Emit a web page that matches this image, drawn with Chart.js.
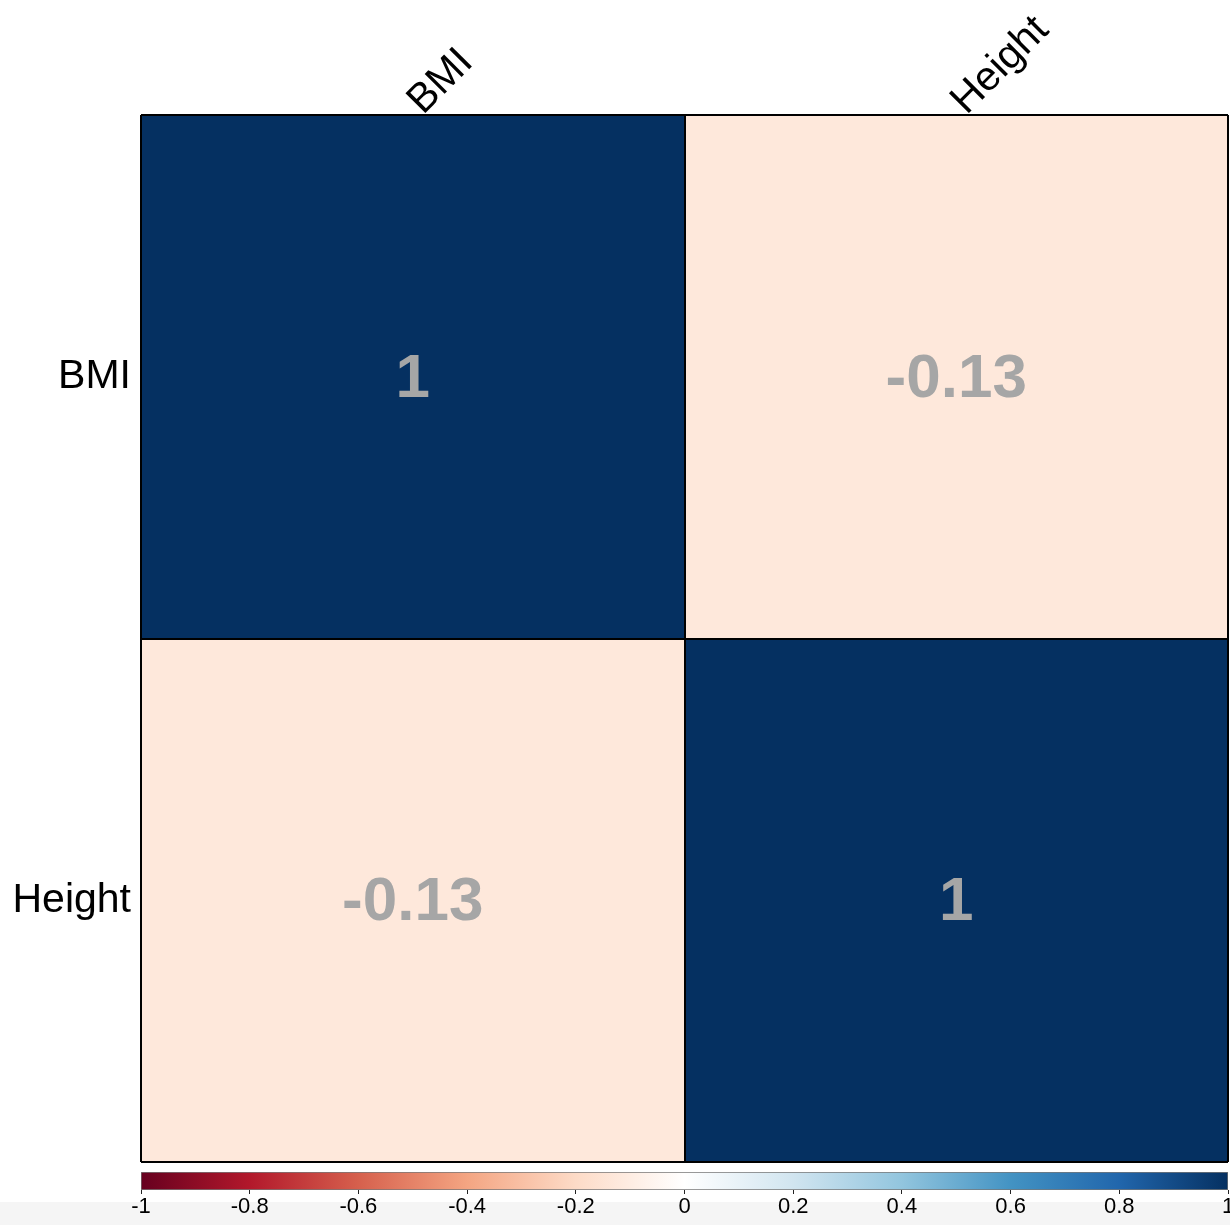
<!DOCTYPE html>
<html>
<head>
<meta charset="utf-8">
<script src="https://cdn.jsdelivr.net/npm/chart.js@4.4.1/dist/chart.umd.min.js"></script>
<style>
    html, body { margin: 0; padding: 0; background: #fff; overflow: hidden; width: 1230px; height: 1225px; }
    #band { position: absolute; left: 0; top: 1202px; width: 1230px; height: 23px; background: #f5f5f5; }
    #corrChart { position: absolute; left: 0; top: 0; }
    #barLegend { position: absolute; left: 0; top: 1166px; }
</style>
</head>
<body>
<div id="band"></div>
<canvas id="corrChart" width="1230" height="1164"></canvas>
<canvas id="barLegend" width="1240" height="58"></canvas>
<script>
const variables = ['BMI', 'Height'];
const bmiRow = [1, -0.13];
const heightRow = [-0.13, 1];
const corrRows = [bmiRow, heightRow];
const legendTicks = [-1, -0.8, -0.6, -0.4, -0.2, 0, 0.2, 0.4, 0.6, 0.8, 1];
// RdBu palette used by corrplot, from -1 to 1
const palette = ['#67001F', '#B2182B', '#D6604D', '#F4A582', '#FDDBC7', '#FFFFFF',
                 '#D1E5F0', '#92C5DE', '#4393C3', '#2166AC', '#053061'];

const FONT = '"Liberation Sans", Arial, Helvetica, sans-serif';

function hexToRgb(h) {
    return [parseInt(h.slice(1, 3), 16), parseInt(h.slice(3, 5), 16), parseInt(h.slice(5, 7), 16)];
}

function colorFor(v) {
    const pos = (v + 1) / 2 * (palette.length - 1);
    const i = Math.min(Math.floor(pos), palette.length - 2);
    const t = pos - i;
    const a = hexToRgb(palette[i]), b = hexToRgb(palette[i + 1]);
    const c = a.map((x, k) => Math.round(x + (b[k] - x) * t));
    return 'rgb(' + c.join(',') + ')';
}

// writes the coefficient in the middle of each cell
const cellText = {
    id: 'cellText',
    afterDatasetsDraw(chart) {
        const ctx = chart.ctx;
        ctx.save();
        ctx.font = 'bold 62px ' + FONT;
        ctx.fillStyle = '#a6a6a6';
        ctx.textAlign = 'center';
        ctx.textBaseline = 'middle';
        chart.data.datasets.forEach((ds, i) => {
            chart.getDatasetMeta(i).data.forEach((bar, j) => {
                const p = bar.getCenterPoint();
                ctx.fillText(String(corrRows[i][j]), p.x, p.y + 3);
            });
        });
        ctx.restore();
    }
};

document.addEventListener('DOMContentLoaded', function () {
    const ctx = document.getElementById('corrChart').getContext('2d');
    const ctx2 = document.getElementById('barLegend').getContext('2d');

    const corrChart = new Chart(ctx, {
        type: 'bar',
        data: {
            labels: variables,
            datasets: corrRows.map((row, i) => ({
                label: variables[i],
                data: row.map(() => [i, i + 1]),
                backgroundColor: (c) => colorFor(row[c.dataIndex]),
                borderWidth: 0,
                barPercentage: 1,
                categoryPercentage: 1
            }))
        },
        options: {
            responsive: false,
            animation: false,
            layout: { padding: { left: 0, right: 2, top: 0, bottom: 2 } },
            plugins: {
                legend: { display: false },
                tooltip: { enabled: false }
            },
            scales: {
                x: {
                    position: 'top',
                    stacked: true,
                    afterFit: (scale) => {
                        scale.height = 115;
                        scale.paddingLeft = 0;
                        scale.paddingRight = 0;
                    },
                    grid: { z: 1, offset: true, color: '#000', lineWidth: 2, drawTicks: false },
                    border: { display: false },
                    ticks: {
                        minRotation: 45,
                        maxRotation: 45,
                        padding: -10,
                        labelOffset: 37,
                        color: '#000',
                        font: { family: FONT, size: 41 }
                    }
                },
                y: {
                    type: 'linear',
                    min: 0,
                    max: variables.length,
                    reverse: true,
                    stacked: false,
                    afterFit: (scale) => {
                        scale.width = 141;
                        scale.paddingTop = 0;
                        scale.paddingBottom = 0;
                    },
                    afterBuildTicks: (scale) => {
                        const t = [];
                        for (let k = 0; k <= variables.length * 2; k++) t.push({ value: k / 2 });
                        scale.ticks = t;
                    },
                    grid: {
                        z: 1,
                        color: (c) => Number.isInteger(c.tick.value) ? '#000' : 'rgba(0,0,0,0)',
                        lineWidth: 2,
                        drawTicks: false
                    },
                    border: { display: false },
                    ticks: {
                        autoSkip: false,
                        padding: 10,
                        color: '#000',
                        font: { family: FONT, size: 41 },
                        callback: (v) => {
                            const i = v - 0.5;
                            return Number.isInteger(i) ? variables[i] : '';
                        }
                    }
                }
            }
        },
        plugins: [cellText]
    });

    // colour legend under the matrix
    const legendChart = new Chart(ctx2, {
        type: 'bar',
        data: {
            labels: [''],
            datasets: [{
                data: [[legendTicks[0], legendTicks[legendTicks.length - 1]]],
                backgroundColor: (c) => {
                    const area = c.chart.chartArea;
                    if (!area) return null;
                    const g = c.chart.ctx.createLinearGradient(area.left, 0, area.right, 0);
                    palette.forEach((col, k) => g.addColorStop(k / (palette.length - 1), col));
                    return g;
                },
                borderColor: '#777',
                borderWidth: 1,
                borderSkipped: false,
                barPercentage: 1,
                categoryPercentage: 1
            }]
        },
        options: {
            indexAxis: 'y',
            responsive: false,
            animation: false,
            layout: { padding: { left: 141, right: 12, top: 6, bottom: 0 } },
            plugins: {
                legend: { display: false },
                tooltip: { enabled: false }
            },
            scales: {
                x: {
                    type: 'linear',
                    min: legendTicks[0],
                    max: legendTicks[legendTicks.length - 1],
                    afterFit: (scale) => { scale.height = 34; },
                    afterBuildTicks: (scale) => {
                        scale.ticks = legendTicks.map(v => ({ value: v }));
                    },
                    grid: { drawOnChartArea: false, drawTicks: true, tickLength: 4, color: '#222' },
                    border: { display: false },
                    ticks: {
                        autoSkip: false,
                        maxRotation: 0,
                        padding: 0,
                        color: '#000',
                        font: { family: FONT, size: 22 },
                        callback: (v) => String(+Number(v).toFixed(2))
                    }
                },
                y: { display: false }
            }
        }
    });
});
</script>
</body>
</html>
